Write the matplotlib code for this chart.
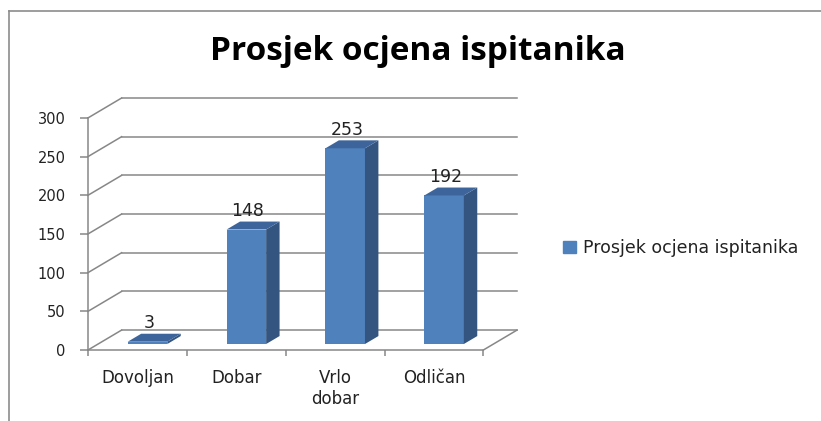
import matplotlib.pyplot as plt
from matplotlib.lines import Line2D
from matplotlib.patches import Patch

# data
categories = ["Dovoljan", "Dobar", "Vrlo\ndobar", "Odličan"]
values = [3, 148, 253, 192]
series_name = "Prosjek ocjena ispitanika"
yticks = [0, 50, 100, 150, 200, 250, 300]

front_col = "#4f81bd"
side_col = "#34557f"
top_col = "#3d659b"
grid_col = "#878787"

# fake 3d: depth offset in data units
DX = 0.34
DY = 25.75
f0, f1 = 0.3, 0.7   # bar front / back plane as fraction of depth
bw = 0.4

fig = plt.figure(figsize=(8.21, 4.21), dpi=100)
ax = fig.add_axes([88 / 821, 71 / 421, 429 / 821, 252 / 421])
ax.set_xlim(-0.5, 3.5 + DX)
ax.set_ylim(0, 300 + DY)

n = len(categories)

# back wall grid + left wall diagonals
for v in yticks:
    ax.plot([-0.5 + DX, n - 0.5 + DX], [v + DY, v + DY], color=grid_col, lw=1.1, zorder=1, clip_on=False)
    ax.plot([-0.5, -0.5 + DX], [v, v + DY], color=grid_col, lw=1.1, zorder=1, clip_on=False)
# floor right edge
ax.plot([n - 0.5, n - 0.5 + DX], [0, DY], color=grid_col, lw=1.1, zorder=1, clip_on=False)

# bars
xs = [i + f0 * DX for i in range(n)]
ax.bar(xs, values, width=bw, bottom=f0 * DY, color=front_col, zorder=3)
dd = f1 - f0
for x, v in zip(xs, values):
    x0, x1 = x - bw / 2, x + bw / 2
    y0 = f0 * DY
    ax.fill([x1, x1 + dd * DX, x1 + dd * DX, x1],
            [y0, y0 + dd * DY, y0 + dd * DY + v, y0 + v], color=side_col, zorder=3, lw=0)
    ax.fill([x0, x1, x1 + dd * DX, x0 + dd * DX],
            [y0 + v, y0 + v, y0 + v + dd * DY, y0 + v + dd * DY], color=top_col, zorder=3, lw=0)
    ax.text(x + 0.05 * DX, v + f1 * DY + 2, str(v), ha="center", va="bottom",
            fontsize=12.5, color="#222222", zorder=4)

# axes styling
for s in ["top", "right"]:
    ax.spines[s].set_visible(False)
ax.spines["left"].set_bounds(0, 300)
ax.spines["bottom"].set_bounds(-0.5, n - 0.5)
for s in ["left", "bottom"]:
    ax.spines[s].set_color(grid_col)
    ax.spines[s].set_linewidth(1.1)

ax.set_yticks(yticks)
ax.tick_params(axis="y", length=6, width=1.1, color=grid_col, pad=10, labelsize=10.5, labelcolor="#222222")
ax.set_xticks([i - 0.5 for i in range(n + 1)])
ax.set_xticklabels([])
ax.tick_params(axis="x", which="major", length=4.5, width=1.1, color=grid_col)
ax.set_xticks(range(n), minor=True)
ax.set_xticklabels(categories, minor=True)
ax.tick_params(axis="x", which="minor", length=0, pad=14, labelsize=12, labelcolor="#222222")

# title
fig.text(418 / 821, 1 - 60 / 421, series_name, ha="center", va="baseline",
         fontsize=24, fontweight="bold", family="Open Sans", color="black")

# legend
handle = Patch(color=front_col, label=series_name)
fig.legend(handles=[handle], loc="center left", bbox_to_anchor=(563 / 821, 1 - 248 / 421),
           frameon=False, fontsize=12.5, handlelength=0.72, handleheight=0.72,
           handletextpad=0.45, borderpad=0, borderaxespad=0, labelcolor="#222222")

# outer chart border (cut off on right and bottom)
fig.add_artist(Line2D([8.5 / 821, 8.5 / 821], [0, 1 - 10.5 / 421], color="#8c8c8c", lw=1.2))
fig.add_artist(Line2D([8.5 / 821, 1], [1 - 10.5 / 421, 1 - 10.5 / 421], color="#8c8c8c", lw=1.2))

fig.savefig("out.png", dpi=100)
